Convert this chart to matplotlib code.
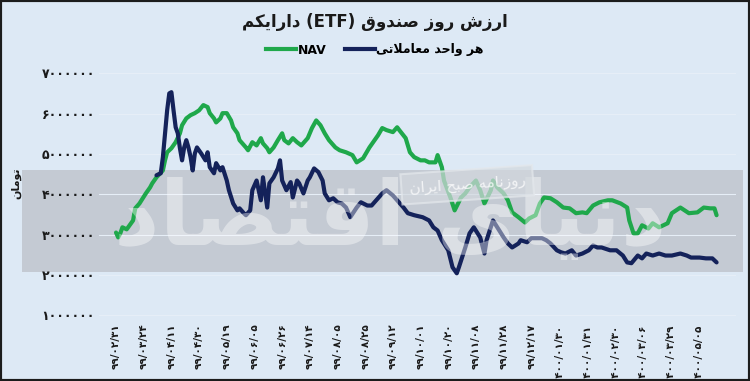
import matplotlib
matplotlib.use("Agg")
import matplotlib.pyplot as plt
from matplotlib.patches import Rectangle

# ---------------- data (values in millions of tomans) ----------------
nav_idx = [0, 1, 2, 3, 5, 8, 9, 11, 14, 16, 17, 19, 22, 23, 24, 26, 28, 30, 31, 33,
           35, 37, 39, 41, 43, 44, 46, 47, 49, 50, 52, 54, 55, 57, 58, 61, 62, 64, 66, 68,
           69, 71, 72, 74, 76, 78, 79, 81, 83, 85, 87, 90, 92, 94, 96, 98, 100, 103, 105, 108,
           111, 113, 116, 119, 123, 125, 127, 130, 132, 133, 136, 138, 140, 143, 145, 147, 150, 151, 153, 154,
           157, 159, 162, 164, 166, 169, 171, 173, 176, 177, 179, 182, 184, 186, 189, 192, 194, 197, 199, 201,
           204, 207, 210, 213, 216, 219, 221, 224, 227, 231, 233, 237, 240, 241, 243, 245, 247, 250, 252, 255,
           259, 261, 265, 267, 269, 273, 276, 279, 281, 282]
nav_val = [3.05, 2.93, 3.03, 3.18, 3.13, 3.35, 3.65, 3.77, 4.02, 4.17, 4.27, 4.42, 4.59, 4.84, 5.04, 5.14, 5.29, 5.51, 5.71, 5.88,
           5.96, 6.01, 6.08, 6.21, 6.16, 6.01, 5.88, 5.78, 5.88, 6.01, 6.01, 5.83, 5.66, 5.51, 5.34, 5.16, 5.09, 5.29, 5.21, 5.39,
           5.26, 5.14, 5.04, 5.16, 5.34, 5.51, 5.34, 5.26, 5.39, 5.29, 5.21, 5.39, 5.64, 5.83, 5.71, 5.51, 5.34, 5.16, 5.09, 5.04,
           4.97, 4.79, 4.89, 5.16, 5.46, 5.64, 5.59, 5.54, 5.66, 5.59, 5.39, 5.04, 4.92, 4.84, 4.84, 4.79, 4.79, 4.97, 4.67, 4.34,
           3.92, 3.60, 3.92, 4.02, 4.17, 4.34, 4.10, 3.77, 4.10, 4.34, 4.17, 4.02, 3.85, 3.55, 3.43, 3.30, 3.40, 3.48, 3.77, 3.92,
           3.90, 3.80, 3.67, 3.65, 3.53, 3.55, 3.53, 3.72, 3.80, 3.85, 3.85, 3.77, 3.67, 3.35, 3.03, 3.03, 3.23, 3.15, 3.28, 3.18,
           3.28, 3.53, 3.67, 3.60, 3.53, 3.55, 3.67, 3.65, 3.65, 3.48]

unit_idx = [19, 21, 22, 23, 24, 25, 26, 27, 28, 29, 30, 31, 32, 33, 34, 35, 36, 37, 38, 40,
            42, 43, 44, 46, 47, 49, 50, 52, 53, 55, 57, 58, 60, 61, 63, 64, 66, 68, 69, 71,
            72, 74, 76, 77, 78, 80, 82, 83, 85, 86, 88, 90, 91, 93, 95, 97, 98, 100, 102, 104,
            106, 108, 110, 113, 115, 118, 120, 123, 125, 127, 130, 132, 135, 137, 140, 144, 147, 149, 151, 153,
            156, 158, 160, 161, 164, 166, 168, 171, 173, 174, 177, 179, 182, 184, 186, 189, 190, 193, 195, 197,
            200, 202, 204, 207, 209, 211, 214, 216, 219, 222, 224, 226, 228, 232, 235, 238, 240, 242, 245, 247,
            249, 252, 255, 258, 261, 265, 268, 270, 274, 277, 280, 282]
unit_val = [4.47, 4.52, 4.92, 5.51, 6.08, 6.50, 6.53, 6.08, 5.66, 5.51, 5.14, 4.84, 5.16, 5.34, 5.16, 4.92, 4.59, 5.01, 5.16, 5.01,
            4.84, 5.04, 4.67, 4.52, 4.77, 4.59, 4.67, 4.34, 4.10, 3.77, 3.60, 3.65, 3.53, 3.48, 3.60, 4.10, 4.34, 3.85, 4.42, 3.67,
            4.27, 4.42, 4.64, 4.84, 4.34, 4.10, 4.30, 3.92, 4.34, 4.27, 4.02, 4.34, 4.42, 4.64, 4.55, 4.34, 4.02, 3.85, 3.90, 3.80,
            3.77, 3.67, 3.43, 3.67, 3.80, 3.72, 3.72, 3.90, 4.02, 4.10, 3.97, 3.85, 3.67, 3.53, 3.48, 3.43, 3.35, 3.18, 3.10, 2.86,
            2.61, 2.19, 2.04, 2.19, 2.68, 3.03, 3.18, 2.93, 2.53, 2.86, 3.35, 3.18, 2.93, 2.78, 2.68, 2.78, 2.86, 2.81, 2.91, 2.91,
            2.91, 2.86, 2.78, 2.61, 2.56, 2.53, 2.61, 2.48, 2.53, 2.61, 2.73, 2.68, 2.68, 2.61, 2.61, 2.48, 2.31, 2.29, 2.48, 2.41,
            2.53, 2.48, 2.53, 2.48, 2.48, 2.53, 2.48, 2.43, 2.43, 2.41, 2.41, 2.31]

date_labels = ["99/02/31", "99/03/24", "99/04/11", "99/04/30", "99/05/19", "99/06/05",
               "99/06/26", "99/07/14", "99/08/05", "99/08/25", "99/09/12", "99/10/01",
               "99/10/20", "99/11/08", "99/11/28", "99/12/17", "1400/01/30", "1400/01/31",
               "1400/02/30", "1400/03/06", "1400/03/29", "1400/05/05"]
label_step = 13
y_ticks = [1, 2, 3, 4, 5, 6, 7]
y_tick_labels = ["1000000", "2000000", "3000000", "4000000", "5000000", "6000000", "7000000"]

title_fa_left = "دارایکم"
title_fa_right = "ارزش روز صندوق"
legend_nav = "NAV"
legend_unit = "هر واحد معاملاتی"
y_label = "تومان"
wm_small = "روزنامه صبح ایران"
wm_big = "دنیای اقتصاد"

# ---------------- minimal Persian shaping (matplotlib has no CTL) ----------------
_F = {
    'ا': ('\uFE8D', '\uFE8E', '', ''),
    'ب': ('\uFE8F', '\uFE90', '\uFE91', '\uFE92'),
    'ت': ('\uFE95', '\uFE96', '\uFE97', '\uFE98'),
    'ح': ('\uFEA1', '\uFEA2', '\uFEA3', '\uFEA4'),
    'د': ('\uFEA9', '\uFEAA', '', ''),
    'ر': ('\uFEAD', '\uFEAE', '', ''),
    'ز': ('\uFEAF', '\uFEB0', '', ''),
    'ش': ('\uFEB5', '\uFEB6', '\uFEB7', '\uFEB8'),
    'ص': ('\uFEB9', '\uFEBA', '\uFEBB', '\uFEBC'),
    'ع': ('\uFEC9', '\uFECA', '\uFECB', '\uFECC'),
    'ق': ('\uFED5', '\uFED6', '\uFED7', '\uFED8'),
    'ک': ('\uFED9', '\uFEDA', '\uFEDB', '\uFEDC'),
    'ل': ('\uFEDD', '\uFEDE', '\uFEDF', '\uFEE0'),
    'م': ('\uFEE1', '\uFEE2', '\uFEE3', '\uFEE4'),
    'ن': ('\uFEE5', '\uFEE6', '\uFEE7', '\uFEE8'),
    'ه': ('\uFEE9', '\uFEEA', '\uFEEB', '\uFEEC'),
    'و': ('\uFEED', '\uFEEE', '', ''),
    'ی': ('\uFEEF', '\uFEF0', '\uFEF3', '\uFEF4'),
}


def shape(s):
    out = []
    i, n = 0, len(s)
    while i < n:
        c = s[i]
        if c not in _F:
            out.append(c)
            i += 1
            continue
        prev = s[i - 1] if i > 0 else ''
        jp = prev in _F and _F[prev][2] != ''
        if c == 'ل' and i + 1 < n and s[i + 1] == 'ا':
            out.append('\uFEFC' if jp else '\uFEFB')
            i += 2
            continue
        nxt = s[i + 1] if i + 1 < n else ''
        jn = _F[c][2] != '' and nxt in _F
        iso, fin, ini, med = _F[c]
        out.append(med if (jp and jn) else fin if jp else ini if jn else iso)
        i += 1
    return ''.join(out)


def rtl(s):
    return shape(s)[::-1]


def fa_digits(s):
    return s.translate(str.maketrans("0123456789", "۰۱۲۳۴۵۶۷۸۹"))


FAM = ['DejaVu Sans']
BG = '#dde9f5'
GREEN = '#1fa84b'
NAVY = '#14225a'
LW = 3.0

fig = plt.figure(figsize=(7.5, 3.81), dpi=100, facecolor=BG)
ax = fig.add_axes([0.132, 0.162, 0.849, 0.667])
ax.set_facecolor('none')

# watermark band
band = Rectangle((22 / 750, 1 - 272 / 381), (743 - 22) / 750, 102 / 381,
                 transform=fig.transFigure, facecolor='#c4cad3', edgecolor='none',
                 zorder=0, clip_on=False)
ax.add_artist(band)

# big faint watermark
fig.text(0.52, 0.42, rtl(wm_big), fontsize=64, fontweight='bold', family=FAM,
         color='white', alpha=0.4, ha='center', va='center', zorder=0.5)
# small watermark box
fig.text(0.623, 0.515, rtl(wm_small), fontsize=11, family=FAM, color='white', alpha=0.75,
         ha='center', va='center', rotation=4,
         bbox=dict(boxstyle='square,pad=0.5', facecolor='#d3d8de', edgecolor='#e4e8ec',
                   alpha=0.7, linewidth=1.5), zorder=0.6)

for yv in y_ticks:
    ax.axhline(yv, color='#e6eef7', linewidth=0.8, zorder=1)

ax.plot(unit_idx, unit_val, color=NAVY, linewidth=LW, solid_joinstyle='round',
        solid_capstyle='round', zorder=3)
ax.plot(nav_idx, nav_val, color=GREEN, linewidth=LW, solid_joinstyle='round',
        solid_capstyle='round', zorder=2.5)

ax.set_xlim(-8, 291)
ax.set_ylim(0.9, 7.2)
for sp in ax.spines.values():
    sp.set_visible(False)

xt = [i * label_step for i in range(len(date_labels))]
ax.set_xticks(xt)
ax.set_xticklabels([fa_digits(d) for d in date_labels], rotation=90, fontsize=7.5,
                   fontweight='bold', family=FAM, color='#1a1a1a')
ax.set_yticks(y_ticks)
ax.set_yticklabels([fa_digits(t) for t in y_tick_labels], fontsize=9, fontweight='bold',
                   family=FAM, color='#1a1a1a')
ax.tick_params(axis='both', length=0)
ax.tick_params(axis='x', pad=3)
ax.tick_params(axis='y', pad=3)

fig.text(16 / 750, 1 - 183 / 381, rtl(y_label), rotation=90, fontsize=8, fontweight='bold',
         family=FAM, ha='center', va='center', color='#1a1a1a')

fig.text(0.5, 1 - 22 / 381, rtl(title_fa_left) + " (ETF) " + rtl(title_fa_right),
         fontsize=12, fontweight='bold', family=FAM, ha='center', va='center', color='#1a1a1a')

h_nav = plt.Line2D([], [], color=GREEN, linewidth=LW)
h_unit = plt.Line2D([], [], color=NAVY, linewidth=LW)
fig.legend([h_nav, h_unit], [legend_nav, rtl(legend_unit)], loc='center',
           bbox_to_anchor=(0.5, 1 - 50 / 381), ncol=2, frameon=False,
           prop={'family': FAM, 'weight': 'bold', 'size': 9},
           handlelength=2.4, handletextpad=0.1, columnspacing=1.5)

# outer frame
fig.patches.append(Rectangle((0, 0), 1, 1, transform=fig.transFigure, fill=False,
                             edgecolor='#1c1c1c', linewidth=3.0, zorder=10))

fig.savefig('out.png', dpi=100, facecolor=BG)
